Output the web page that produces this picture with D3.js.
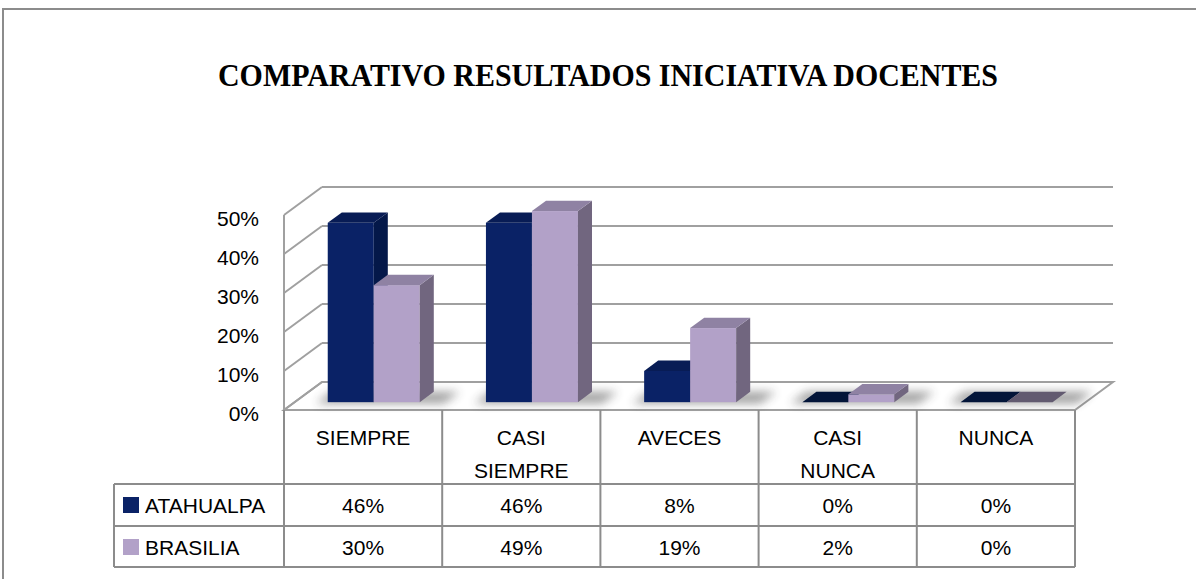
<!DOCTYPE html>
<html>
<head>
<meta charset="utf-8">
<script src="https://cdn.jsdelivr.net/npm/d3@7"></script>
<style>
  body { margin: 0; background: #fff; }
  svg { display: block; }
  .lbl { font-family: "Liberation Sans", Arial, sans-serif; font-size: 21px; fill: #000; }
</style>
</head>
<body>
<svg id="chart" width="1196" height="579"></svg>
<script>
// chart data
const categories = ["SIEMPRE", "CASI SIEMPRE", "AVECES", "CASI NUNCA", "NUNCA"];
const categoryLines = [["SIEMPRE"], ["CASI", "SIEMPRE"], ["AVECES"], ["CASI", "NUNCA"], ["NUNCA"]];
const seriesNames = ["ATAHUALPA", "BRASILIA"];
const atahualpa = [46, 46, 8, 0, 0];
const brasilia = [30, 49, 19, 2, 0];
const yTicks = [0, 10, 20, 30, 40, 50];

let svg = d3.select("#chart");

let left = 284, right = 1075;
let floorY = 410, topY = 215;
let DX = 38, DY = 28;     // depth offset of the back wall
let d0 = 0.28, d1 = 0.65; // bar depth range

let xScale = d3.scaleBand().domain(categories).range([left, right]);
let yScale = d3.scaleLinear().domain([0, 50]).range([floorY, topY]);
let sScale = d3.scaleBand().domain(seriesNames).range([0, 92]);

function proj(x, v, d) {
    return [x + d * DX, yScale(v) - d * DY];
}

let colors = {
    ATAHUALPA: {front: "#0a2266", top: "#081c55", side: "#041849", flat: "#031539"},
    BRASILIA: {front: "#b2a1c8", top: "#8f82a3", side: "#71667f", flat: "#625a70"}
};

let defs = svg.append("defs");
defs.append("filter").attr("id", "blur")
    .attr("x", "-50%").attr("y", "-200%").attr("width", "200%").attr("height", "500%")
    .append("feGaussianBlur").attr("stdDeviation", 5);

// outer border
svg.append("rect")
    .attr("x", 3).attr("y", 9)
    .attr("width", 1250).attr("height", 620)
    .attr("fill", "none").attr("stroke", "#8c8c8c").attr("stroke-width", 2);

// title
svg.append("text")
    .attr("x", 608).attr("y", 86)
    .attr("text-anchor", "middle")
    .attr("textLength", 780).attr("lengthAdjust", "spacingAndGlyphs")
    .style("font-family", "'Liberation Serif', 'Times New Roman', serif")
    .style("font-weight", "bold").style("font-size", "31px")
    .text("COMPARATIVO RESULTADOS INICIATIVA DOCENTES");

let grid = svg.append("g").attr("stroke", "#a0a0a0").attr("stroke-width", 2).attr("fill", "none");

// floor
let floorPts = [proj(left, 0, 0), proj(right, 0, 0), proj(right, 0, 1), proj(left, 0, 1)];
grid.append("polygon").attr("points", floorPts.map(p => p.join(",")).join(" "));

// back wall gridlines + left wall
for (let t of yTicks) {
    let a = proj(left, t, 1), b = proj(right, t, 1), c = proj(left, t, 0);
    grid.append("line").attr("x1", a[0]).attr("y1", a[1]).attr("x2", b[0]).attr("y2", b[1]);
    grid.append("line").attr("x1", c[0]).attr("y1", c[1]).attr("x2", a[0]).attr("y2", a[1]);
}
grid.append("line")
    .attr("x1", left).attr("y1", yScale(0)).attr("x2", left).attr("y2", yScale(50));

// y axis labels
svg.append("g").selectAll("text")
    .data(yTicks).enter().append("text")
    .attr("class", "lbl")
    .attr("x", 259).attr("y", d => yScale(d) + 11)
    .attr("text-anchor", "end")
    .text(d => d + "%");

// bars
let rows = [
    {name: "ATAHUALPA", values: atahualpa},
    {name: "BRASILIA", values: brasilia}
];
let bw = sScale.bandwidth();
let pairOffset = (xScale.bandwidth() - 92) / 2;

let shadows = svg.append("g").attr("filter", "url(#blur)").attr("opacity", 0.45);
let bars = svg.append("g");

categories.forEach(function (cat, i) {
    let gx = xScale(cat) + pairOffset;
    // soft shadow on the floor
    let s = [proj(gx - 10, 0, d0 - 0.05), proj(gx + 92 + 26, 0, d0 - 0.05),
             proj(gx + 92 + 26, 0, d1), proj(gx - 10, 0, d1)];
    shadows.append("polygon").attr("points", s.map(p => p.join(",")).join(" ")).attr("fill", "#333");

    rows.forEach(function (row) {
        let v = row.values[i];
        let c = colors[row.name];
        let x0 = gx + sScale(row.name), x1 = x0 + bw;
        let g = bars.append("g");
        if (v > 0) {
            let f0 = proj(x0, v, d0), f1 = proj(x1, 0, d0);
            g.append("rect")
                .attr("x", f0[0]).attr("y", f0[1])
                .attr("width", f1[0] - f0[0]).attr("height", f1[1] - f0[1])
                .attr("fill", c.front);
            let side = [proj(x1, v, d0), proj(x1, 0, d0), proj(x1, 0, d1), proj(x1, v, d1)];
            g.append("polygon").attr("points", side.map(p => p.join(",")).join(" ")).attr("fill", c.side);
        }
        let top = [proj(x0, v, d0), proj(x1, v, d0), proj(x1, v, d1), proj(x0, v, d1)];
        g.append("polygon").attr("points", top.map(p => p.join(",")).join(" "))
            .attr("fill", v > 0 ? c.top : c.flat);
    });
});

// data table
let rowY = [410, 484, 526, 567];
let legendLeft = 114;
let table = svg.append("g").attr("stroke", "#8c8c8c").attr("stroke-width", 2);

[rowY[1], rowY[2], rowY[3]].forEach(function (yy) {
    table.append("line").attr("x1", legendLeft).attr("x2", right).attr("y1", yy).attr("y2", yy);
});
let colEdges = categories.map(c => xScale(c)).concat([right]);
colEdges.forEach(function (xx) {
    table.append("line").attr("x1", xx).attr("x2", xx).attr("y1", rowY[0]).attr("y2", rowY[3]);
});
table.append("line").attr("x1", legendLeft).attr("x2", legendLeft).attr("y1", rowY[1]).attr("y2", rowY[3]);

// header labels
categories.forEach(function (cat, i) {
    let t = svg.append("text").attr("class", "lbl")
        .attr("x", xScale(cat) + xScale.bandwidth() / 2)
        .attr("text-anchor", "middle");
    categoryLines[i].forEach(function (line, j) {
        t.append("tspan")
            .attr("x", xScale(cat) + xScale.bandwidth() / 2)
            .attr("y", 445 + j * 33)
            .text(line);
    });
});

// value rows with legend keys
rows.forEach(function (row, r) {
    let base = rowY[r + 1] + 29;
    svg.append("rect")
        .attr("x", 123).attr("y", base - 16)
        .attr("width", 16).attr("height", 16)
        .attr("fill", colors[row.name].front);
    svg.append("text").attr("class", "lbl")
        .attr("x", 145).attr("y", base)
        .text(row.name);
    svg.append("g").selectAll("text")
        .data(row.values).enter().append("text")
        .attr("class", "lbl")
        .attr("x", (d, i) => xScale(categories[i]) + xScale.bandwidth() / 2)
        .attr("y", base)
        .attr("text-anchor", "middle")
        .text(d => d + "%");
});
</script>
</body>
</html>
